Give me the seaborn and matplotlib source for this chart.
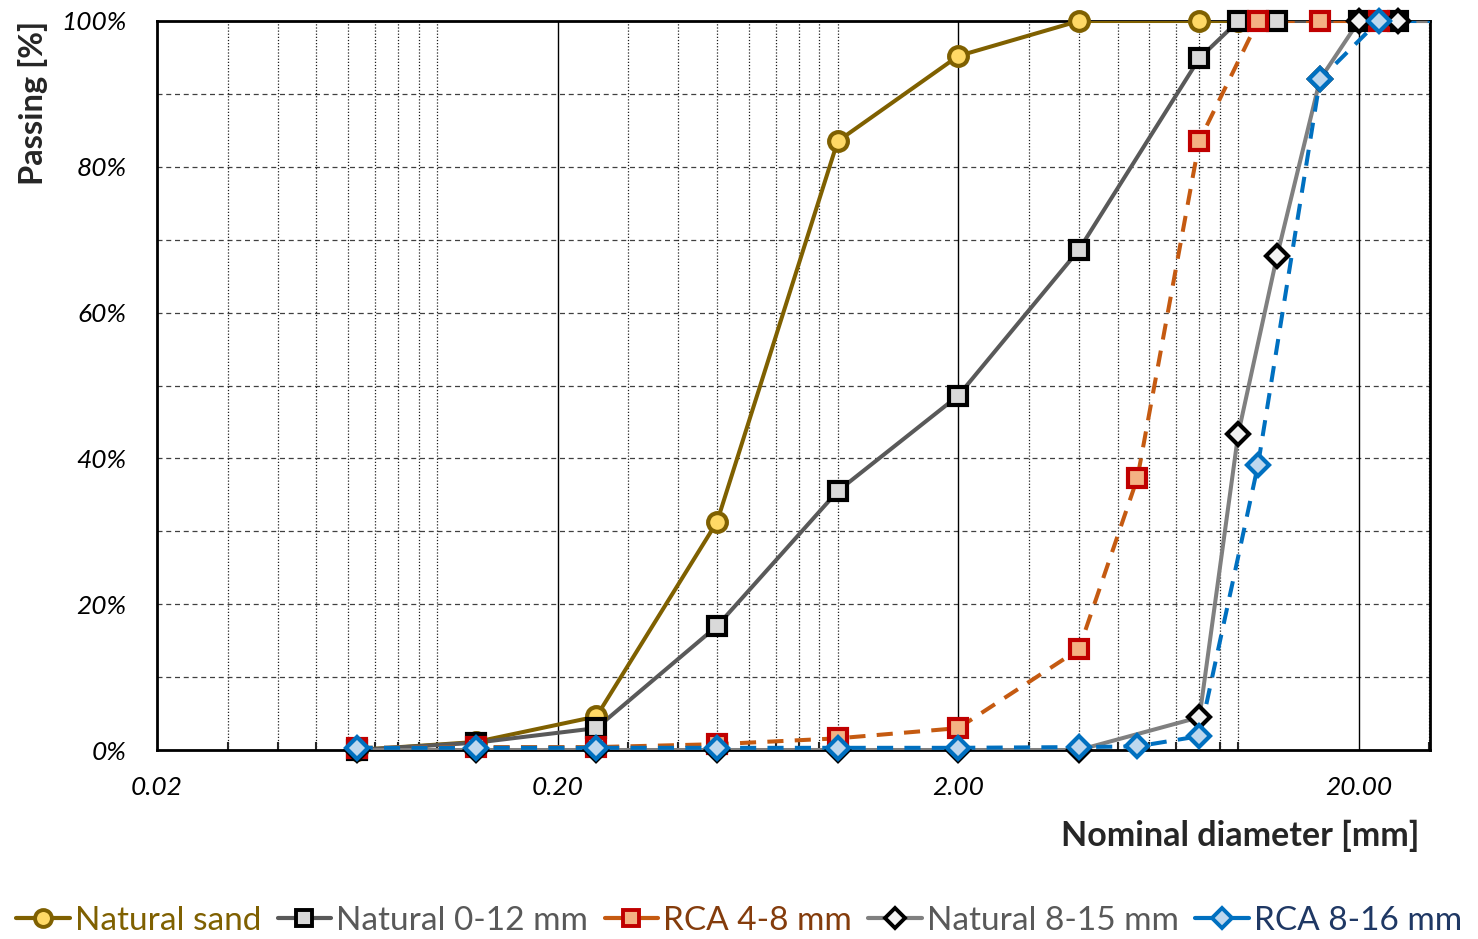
import numpy as np
import pandas as pd
import matplotlib
matplotlib.use("Agg")
import matplotlib.pyplot as plt
from matplotlib.lines import Line2D
from matplotlib.ticker import FixedLocator, NullFormatter
import seaborn as sns

# Sieve sizes [mm] and cumulative passing [%] for each aggregate
sand_d = [0.063, 0.125, 0.25, 0.5, 1, 2, 4, 8, 10]
sand_p = [0.0, 1.1, 4.6, 31.3, 83.5, 95.2, 100, 100, 100]

nat012_d = [0.063, 0.125, 0.25, 0.5, 1, 2, 4, 8, 10, 12.5, 20, 25, 31.5]
nat012_p = [0.0, 1.0, 3.0, 17.0, 35.5, 48.6, 68.6, 94.9, 100, 100, 100, 100, 100]

rca48_d = [0.063, 0.125, 0.25, 0.5, 1, 2, 4, 5.6, 8, 11.2, 16, 22.4, 31.5]
rca48_p = [0.3, 0.4, 0.4, 0.8, 1.6, 3.0, 13.8, 37.3, 83.6, 100, 100, 100, 100]

nat815_d = [0.063, 0.125, 0.25, 0.5, 1, 2, 4, 8, 10, 12.5, 16, 20, 25, 31.5]
nat815_p = [0.0, 0.0, 0.0, 0.0, 0.0, 0.0, 0.0, 4.5, 43.4, 67.8, 92.0, 100, 100, 100]

rca816_d = [0.063, 0.125, 0.25, 0.5, 1, 2, 4, 5.6, 8, 11.2, 16, 22.4, 31.5]
rca816_p = [0.3, 0.3, 0.3, 0.3, 0.3, 0.3, 0.4, 0.5, 1.9, 39.1, 92.0, 100, 100]

series_names = ["Natural sand", "Natural 0-12 mm", "RCA 4-8 mm",
                "Natural 8-15 mm", "RCA 8-16 mm"]

x_ticks = [0.02, 0.2, 2, 20]
x_tick_labels = ["0.02", "0.20", "2.00", "20.00"]
y_ticks = [0, 20, 40, 60, 80, 100]
y_tick_labels = ["0%", "20%", "40%", "60%", "80%", "100%"]

styles = [
    dict(color="#7F6000", ls="-", marker="o", mfc="#FFD966", mec="#7F6000", ms=13.5, txt="#7F6000"),
    dict(color="#595959", ls="-", marker="s", mfc="#D9D9D9", mec="#000000", ms=13, txt="#595959"),
    dict(color="#C55A11", ls=(0, (4, 2.8)), marker="s", mfc="#F4B183", mec="#C00000", ms=13, txt="#843C0C"),
    dict(color="#808080", ls="-", marker="D", mfc="#F2F2F2", mec="#000000", ms=11, txt="#595959"),
    dict(color="#0070C0", ls=(0, (4, 2.8)), marker="D", mfc="#BDD7EE", mec="#0070C0", ms=11, txt="#1F3864"),
]

frames = []
for name, d, p in zip(series_names,
                      [sand_d, nat012_d, rca48_d, nat815_d, rca816_d],
                      [sand_p, nat012_p, rca48_p, nat815_p, rca816_p]):
    frames.append(pd.DataFrame({"d": d, "p": p, "series": name}))
df = pd.concat(frames, ignore_index=True)

sns.set_style("white")
plt.rcParams["font.family"] = ["Lato", "DejaVu Sans"]

fig = plt.figure(figsize=(14.78, 9.39), dpi=100)
ax = fig.add_axes([157 / 1478, 1 - 750 / 939, (1430 - 157) / 1478, (750 - 21) / 939])

X_MIN, X_MAX = 0.02, 30.1
ax.set_xscale("log")
ax.set_xlim(X_MIN, X_MAX)
ax.set_ylim(0, 100)

# grid: dashed horizontals every 10 %, dotted minor verticals, solid decade lines
for yv in range(10, 100, 10):
    ax.axhline(yv, color="#404040", lw=0.9, ls=(0, (4, 3)), zorder=0)
minor_pos = []
for base in [0.01, 0.1, 1, 10]:
    for m in range(1, 10):
        v = base * m
        if X_MIN < v < X_MAX and not any(np.isclose(v, t) for t in x_ticks):
            minor_pos.append(v)
for xv in minor_pos:
    ax.axvline(xv, color="#202020", lw=0.9, ls=(0, (1, 1.5)), zorder=0)
for xv in x_ticks[1:]:
    ax.axvline(xv, color="black", lw=1.0, zorder=0)

for name, st in zip(series_names, styles):
    sub = df[df["series"] == name]
    # connecting line, clipped to the axes
    sns.lineplot(data=sub, x="d", y="p", ax=ax, color=st["color"], linestyle=st["ls"],
                 lw=2.9, sort=False, estimator=None, legend=False, zorder=3)
    # markers may overhang the frame
    vis = sub[(sub["d"] >= X_MIN) & (sub["d"] <= X_MAX)]
    sns.lineplot(data=vis, x="d", y="p", ax=ax, linestyle="", marker=st["marker"],
                 markersize=st["ms"], markerfacecolor=st["mfc"], markeredgecolor=st["mec"],
                 markeredgewidth=3.0, sort=False, estimator=None, legend=False,
                 clip_on=False, zorder=4)

for s in ax.spines.values():
    s.set_color("black")
    s.set_linewidth(2.0)
    s.set_visible(True)

ax.xaxis.set_major_locator(FixedLocator(x_ticks))
ax.set_xticklabels(x_tick_labels)
ax.xaxis.set_minor_locator(FixedLocator(minor_pos))
ax.xaxis.set_minor_formatter(NullFormatter())
ax.set_yticks(y_ticks)
ax.set_yticklabels(y_tick_labels)
ax.tick_params(axis="both", which="major", direction="in", length=8, width=2,
               labelsize=19, colors="black")
ax.tick_params(axis="x", which="major", pad=19)
ax.tick_params(axis="y", which="major", pad=22)
ax.tick_params(axis="x", which="minor", direction="in", length=6, width=1.5, bottom=True)
for lab in ax.get_xticklabels() + ax.get_yticklabels():
    lab.set_fontstyle("italic")

ax.set_xlabel("Nominal diameter [mm]", fontsize=24.5, fontweight="bold", ha="right", va="center")
ax.xaxis.set_label_coords(0.992, -(836 - 750) / 729)
ax.set_ylabel("Passing [%]", fontsize=23.5, fontweight="bold", ha="right", va="center")
ax.yaxis.set_label_coords(-(157 - 33) / 1273, 1.0)

handles = [Line2D([0], [0], color=st["color"], ls="-", lw=3, marker=st["marker"],
                  markersize=st["ms"] * 0.9, markerfacecolor=st["mfc"],
                  markeredgecolor=st["mec"], markeredgewidth=2.8)
           for st in styles]
leg = fig.legend(handles, series_names, loc="center", bbox_to_anchor=(0.5, 1 - 921 / 939),
                 ncol=5, frameon=False, fontsize=24, handlelength=1.6, handletextpad=0.15,
                 columnspacing=0.5, borderaxespad=0, borderpad=0)
for txt, st in zip(leg.get_texts(), styles):
    txt.set_color(st["txt"])

fig.savefig("out.png", dpi=100)
